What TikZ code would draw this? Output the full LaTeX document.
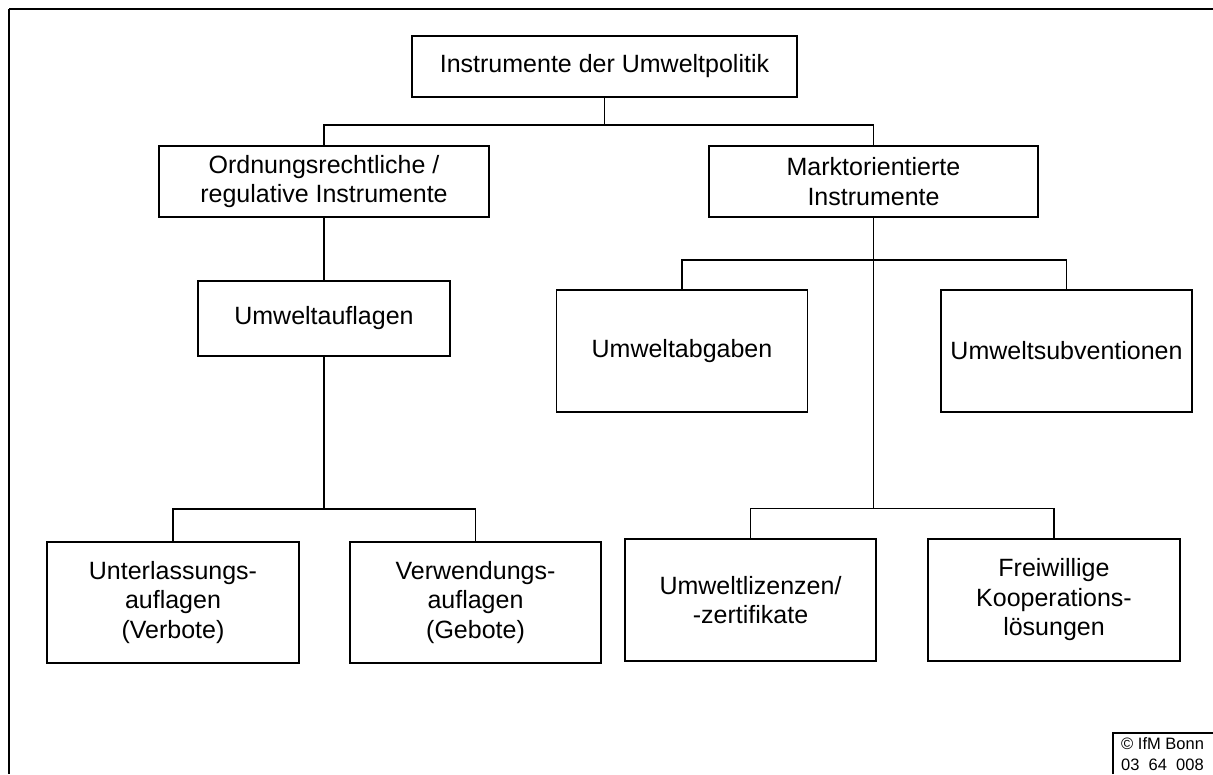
\documentclass[tikz,border=0pt]{standalone}
\usepackage{fontspec}
\setmainfont{Liberation Sans}
\begin{document}
\begin{tikzpicture}[x=1pt,y=-1pt,
  box/.style={draw=black,line width=1.5pt,align=center,inner sep=0pt,
    font=\fontsize{25}{29.5}\selectfont},
  link/.style={draw=black,line width=1.3pt},
  frameline/.style={draw=black,line width=2pt}]
\useasboundingbox (0,0) rectangle (1213,774);
% frame
\coordinate (fTL) at (9,9);
\coordinate (fTR) at (1213,9);
\coordinate (fBL) at (9,774);
\draw[frameline,line width=2.6pt] (fTL) -- (fTR);
\draw[frameline] (fTL) -- (fBL);
% nodes
\node[box,minimum width=385,minimum height=61] (top) at (604.5,66.5) {Instrumente der Umweltpolitik};
\node[box,minimum width=330,minimum height=71] (ord) at (324,181.5) {Ordnungsrechtliche /\\regulative Instrumente};
\node[box,minimum width=329,minimum height=71] (markt) at (873.5,181.5) {Marktorientierte\\Instrumente};
\node[box,minimum width=252,minimum height=75] (aufl) at (324,318.5) {Umweltauflagen};
\node[box,minimum width=251,minimum height=122] (abg) at (682,351) {Umweltabgaben};
\node[box,minimum width=251,minimum height=122] (subv) at (1066.5,351) {Umweltsubventionen};
\node[box,minimum width=252,minimum height=121] (unter) at (173,602.5) {Unterlassungs-\\auflagen\\(Verbote)};
\node[box,minimum width=251,minimum height=121] (verw) at (475.5,602.5) {Verwendungs-\\auflagen\\(Gebote)};
\node[box,minimum width=251,minimum height=122] (liz) at (750.5,600) {Umweltlizenzen/\\-zertifikate};
\node[box,minimum width=252,minimum height=122] (frei) at (1054,600) {Freiwillige\\Kooperations-\\lösungen};
% bus coordinates
\coordinate (bus1) at (604.5,125);
\coordinate (bus2) at (873.5,260);
\coordinate (bus3) at (873.5,508.5);
\coordinate (bus4) at (324,509);
% connectors
\draw[link] (top.south) -- (bus1);
\draw[link] (ord.north) |- (bus1) -| (markt.north);
\draw[link] (ord.south) -- (aufl.north);
\draw[link] (aufl.south) -- (bus4);
\draw[link] (unter.north) |- (bus4) -| (verw.north);
\draw[link] (markt.south) -- (bus3);
\draw[link] (abg.north) |- (bus2) -| (subv.north);
\draw[link] (liz.north) |- (bus3) -| (frei.north);
% copyright box
\coordinate (cTL) at (1113,733);
\coordinate (cTR) at (1213,733);
\coordinate (cBL) at (1113,774);
\draw[line width=1.5pt] (cBL) -- (cTL) -- (cTR);
\node[anchor=north west,align=left,inner sep=0pt,
  font=\fontsize{16.5}{21}\selectfont] (copy) at (1121,737) {© IfM Bonn\\03\ \ 64\ \ 008};
\end{tikzpicture}
\end{document}
